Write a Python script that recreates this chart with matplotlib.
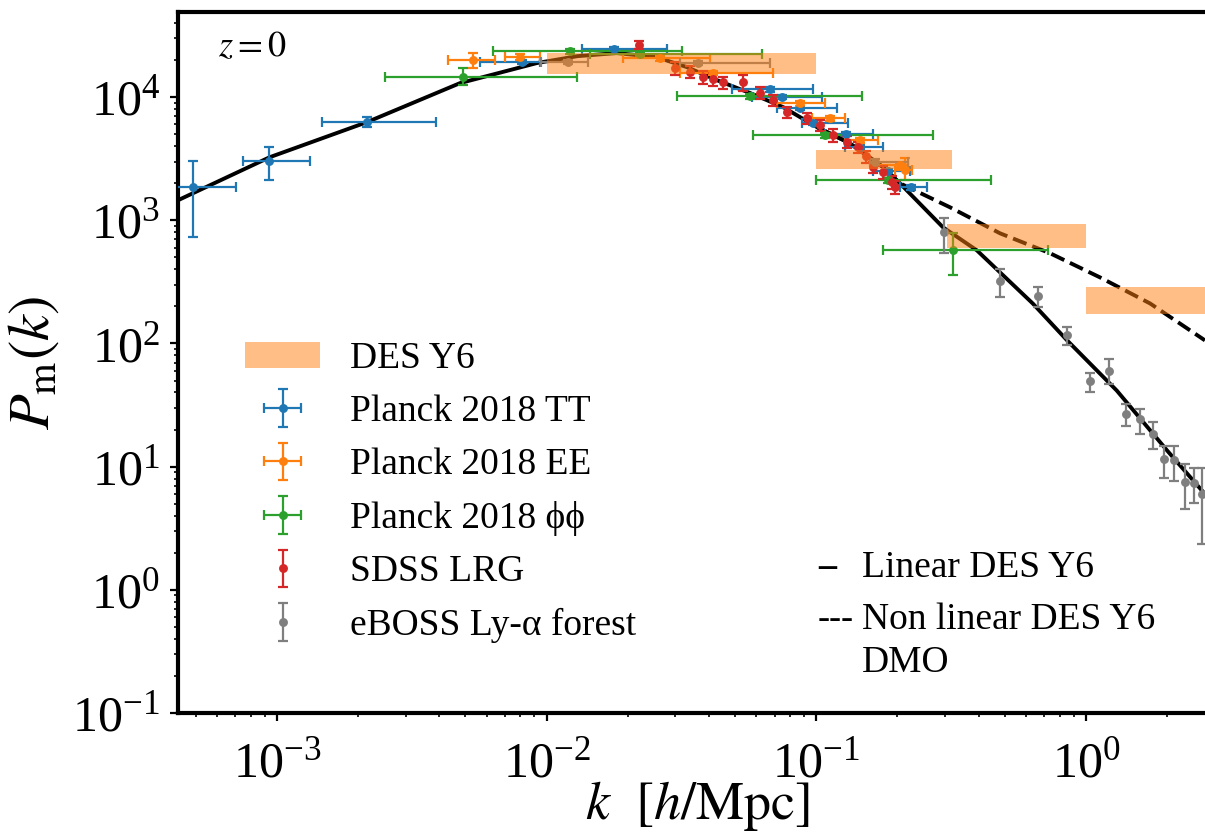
"""
    Matter power spectrum at z=0 with data compilations
"""
import matplotlib
matplotlib.use('Agg')
import matplotlib.pyplot as plt
import numpy as np
from matplotlib.patches import Patch

plt.rcParams['font.family'] = ['Liberation Serif', 'DejaVu Serif']
plt.rcParams['mathtext.fontset'] = 'stix'

# linear / non linear DES Y6 theory curves
lin_k = [4.3e-4, 9.4e-4, 2.16e-3, 4.78e-3, 9.2e-3, 1.3e-2, 1.82e-2, 2.56e-2, 3.32e-2,
         4.29e-2, 5.68e-2, 7.53e-2, 0.1007, 0.133, 0.177, 0.204, 0.295, 0.394, 0.635,
         0.851, 1.30, 2.0, 2.76]
lin_p = [1455, 3250, 6270, 13000, 18900, 21500, 22800, 21100, 17500, 13700, 10800, 8300,
         5700, 4230, 2700, 2000, 877, 570, 211, 106, 41.5, 13.5, 6.0]
nl_k = [0.1007, 0.133, 0.177, 0.204, 0.313, 0.480, 0.736, 1.127, 1.73, 2.76]
nl_p = [5700, 4230, 2700, 2000, 1276, 784, 540, 344, 211, 106]

# DES Y6 bands
des_klo = [0.01, 0.1, 0.305, 1.0]
des_khi = [0.1, 0.318, 1.0, 3.2]
des_plo = [15400, 2600, 592, 175]
des_phi = [22800, 3700, 927, 285]

# Planck 2018 TT
tt_k = [4.89e-4, 9.35e-4, 2.16e-3, 8.1e-3, 1.78e-2, 6.73e-2, 7.46e-2, 8.7e-2, 9.72e-2,
        0.129, 0.145, 0.185, 0.224]
tt_klo = [3.9e-4, 7.48e-4, 1.47e-3, 5.66e-3, 1.35e-2, 4.87e-2, 5.78e-2, 7.15e-2, 8.85e-2,
          0.108, 0.128, 0.162, 0.204]
tt_khi = [7.05e-4, 1.33e-3, 3.89e-3, 9.45e-3, 2.79e-2, 9.72e-2, 0.105, 0.119, 0.131,
          0.162, 0.177, 0.222, 0.257]
tt_p = [1850, 3020, 6270, 19300, 24500, 11600, 10000, 8150, 6150, 5000, 3920, 2500, 1850]
tt_plo = [728, 2110, 5700, 18500, 23500, 11100, 9600, 7800, 5900, 4800, 3760, 2400, 1770]
tt_phi = [3020, 3920, 6880, 20100, 25500, 12100, 10400, 8500, 6400, 5200, 4080, 2600, 1930]

# Planck 2018 EE
ee_k = [5.33e-3, 7.97e-3, 2.63e-2, 4.14e-2, 8.7e-2, 0.112, 0.145, 0.204, 0.213]
ee_klo = [4.31e-3, 7.01e-3, 1.92e-2, 3.12e-2, 7.15e-2, 0.0964, 0.128, 0.162, 0.196]
ee_khi = [6.44e-3, 9.45e-3, 4.03e-2, 6.91e-2, 0.108, 0.128, 0.169, 0.219, 0.226]
ee_p = [20000, 21100, 20700, 15700, 8940, 6750, 4470, 2800, 2550]
ee_plo = [17200, 20000, 19800, 15000, 8550, 6450, 4270, 2680, 2110]
ee_phi = [22800, 22200, 21600, 16400, 9330, 7050, 4670, 2920, 3190]

# Planck 2018 phi phi
pp_k = [4.9e-3, 1.22e-2, 2.22e-2, 5.68e-2, 0.108, 0.185, 0.321]
pp_klo = [2.52e-3, 6.33e-3, 1.45e-2, 3.04e-2, 5.82e-2, 9.97e-2, 0.177]
pp_khi = [1.30e-2, 3.18e-2, 6.29e-2, 0.148, 0.271, 0.445, 0.723]
pp_p = [14500, 23700, 22400, 10200, 4910, 2110, 570]
pp_plo = [12500, 22600, 21400, 9700, 4670, 2000, 357]
pp_phi = [17200, 24800, 23400, 10700, 5150, 2220, 784]

# SDSS LRG
lrg_k = [2.20e-2, 2.99e-2, 3.40e-2, 3.80e-2, 4.14e-2, 4.51e-2, 5.35e-2, 6.18e-2, 6.91e-2,
         7.79e-2, 9.24e-2, 0.103, 0.115, 0.130, 0.143, 0.153, 0.162, 0.177, 0.191, 0.196]
lrg_p = [26500, 17200, 16000, 14500, 14000, 13200, 13200, 10800, 9460, 7560, 6750, 5920,
         4910, 4310, 3920, 3310, 2700, 2460, 2040, 1850]
lrg_perr = [2000, 2000, 1800, 1700, 1600, 1500, 1900, 1200, 1000, 800, 700, 650, 550, 480,
            430, 370, 300, 280, 240, 220]

# grey points with k bins (no legend entry)
gx_k = [1.2e-2, 3.64e-2, 0.165]
gx_klo = [9.5e-3, 3.12e-2, 0.158]
gx_khi = [1.43e-2, 6.73e-2, 0.219]
gx_p = [19300, 18900, 2970]
gx_perr = [600, 600, 150]

# eBOSS Ly-alpha forest
ly_k = [0.297, 0.480, 0.664, 0.851, 1.035, 1.217, 1.406, 1.585, 1.771, 1.945, 2.12, 2.33,
        2.51, 2.69]
ly_p = [798, 319, 241, 118, 50, 60.3, 27.0, 24.5, 18.5, 11.6, 11.4, 7.55, 7.41, 6.03]
ly_plo = [540, 237, 196, 98, 40.7, 47.3, 21.5, 18.5, 14.0, 8.1, 7.7, 4.56, 5.09, 2.37]
ly_phi = [1038, 400, 290, 137, 58, 75.5, 32.5, 29.6, 23.2, 14.8, 14.8, 10.6, 9.8, 9.8]


def bars(c, lo, hi):
    c, lo, hi = np.array(c), np.array(lo), np.array(hi)
    return [c - lo, hi - c]


fig = plt.figure(figsize=(6.025, 4.195), dpi=200)
ax = fig.add_axes([178 / 1205, 126 / 839, 1039 / 1205, 701 / 839])

ax.plot(nl_k, nl_p, color='k', ls='--', lw=1.4, zorder=1)
ax.plot(lin_k, lin_p, color='k', ls='-', lw=1.4, zorder=1)

eb = dict(fmt='o', ms=2.2, elinewidth=0.8, capsize=1.8, capthick=0.8, zorder=3)
h_tt = ax.errorbar(tt_k, tt_p, xerr=bars(tt_k, tt_klo, tt_khi),
                   yerr=bars(tt_p, tt_plo, tt_phi), color='tab:blue', **eb)
h_ee = ax.errorbar(ee_k, ee_p, xerr=bars(ee_k, ee_klo, ee_khi),
                   yerr=bars(ee_p, ee_plo, ee_phi), color='tab:orange', **eb)
h_pp = ax.errorbar(pp_k, pp_p, xerr=bars(pp_k, pp_klo, pp_khi),
                   yerr=bars(pp_p, pp_plo, pp_phi), color='tab:green', **eb)
h_lrg = ax.errorbar(lrg_k, lrg_p, yerr=lrg_perr, color='tab:red', **eb)
ax.errorbar(gx_k, gx_p, xerr=bars(gx_k, gx_klo, gx_khi), yerr=gx_perr,
            color='tab:gray', **eb)
h_ly = ax.errorbar(ly_k, ly_p, yerr=bars(ly_p, ly_plo, ly_phi), color='tab:gray', **eb)

for k0, k1, p0, p1 in zip(des_klo, des_khi, des_plo, des_phi):
    ax.fill_between([k0, k1], p0, p1, color='tab:orange', alpha=0.5, lw=0, zorder=5)

ax.set_xscale('log')
ax.set_yscale('log')
ax.set_xlim(4.3e-4, 3.06)
ax.set_ylim(0.1, 4.91e4)

for s in ['left', 'top', 'bottom', 'right']:
    ax.spines[s].set_linewidth(1.5)
ax.tick_params(which='major', labelsize=18, length=3, width=0.8)
ax.tick_params(axis='x', which='major', pad=7)
ax.tick_params(which='minor', length=1.5, width=0.6)
ax.set_xlabel(r'$k\ \ [h/{\rm Mpc}]$', fontsize=19.5, labelpad=-3)
ax.set_ylabel(r'$P_{\rm m}(k)$', fontsize=21, labelpad=4)

ax.text(0.0385, 0.949, r'$z=0$', transform=ax.transAxes, fontsize=13,
        ha='left', va='center')

des_patch = Patch(color='tab:orange', alpha=0.5, lw=0)
ax.legend([des_patch, h_tt, h_ee, h_pp, h_lrg, h_ly],
          ['DES Y6', 'Planck 2018 TT', 'Planck 2018 EE', 'Planck 2018 \u03d5\u03d5',
           'SDSS LRG', 'eBOSS Ly-\u03b1 forest'],
          loc='upper left', bbox_to_anchor=(0.0645, 0.53), frameon=False,
          fontsize=13.5, borderpad=0, borderaxespad=0, labelspacing=0.5,
          handletextpad=0.8)

# theory line key
ax.text(0.616, 0.207, '\u2013', transform=ax.transAxes, fontsize=13, va='center',
        fontweight='bold')
ax.text(0.658, 0.207, 'Linear DES Y6', transform=ax.transAxes, fontsize=13.5,
        va='center')
ax.text(0.616, 0.133, '---', transform=ax.transAxes, fontsize=13, va='center')
ax.text(0.658, 0.133, 'Non linear DES Y6', transform=ax.transAxes, fontsize=13.5,
        va='center')
ax.text(0.658, 0.071, 'DMO', transform=ax.transAxes, fontsize=13.5, va='center')

fig.savefig('out.png', dpi=200)
